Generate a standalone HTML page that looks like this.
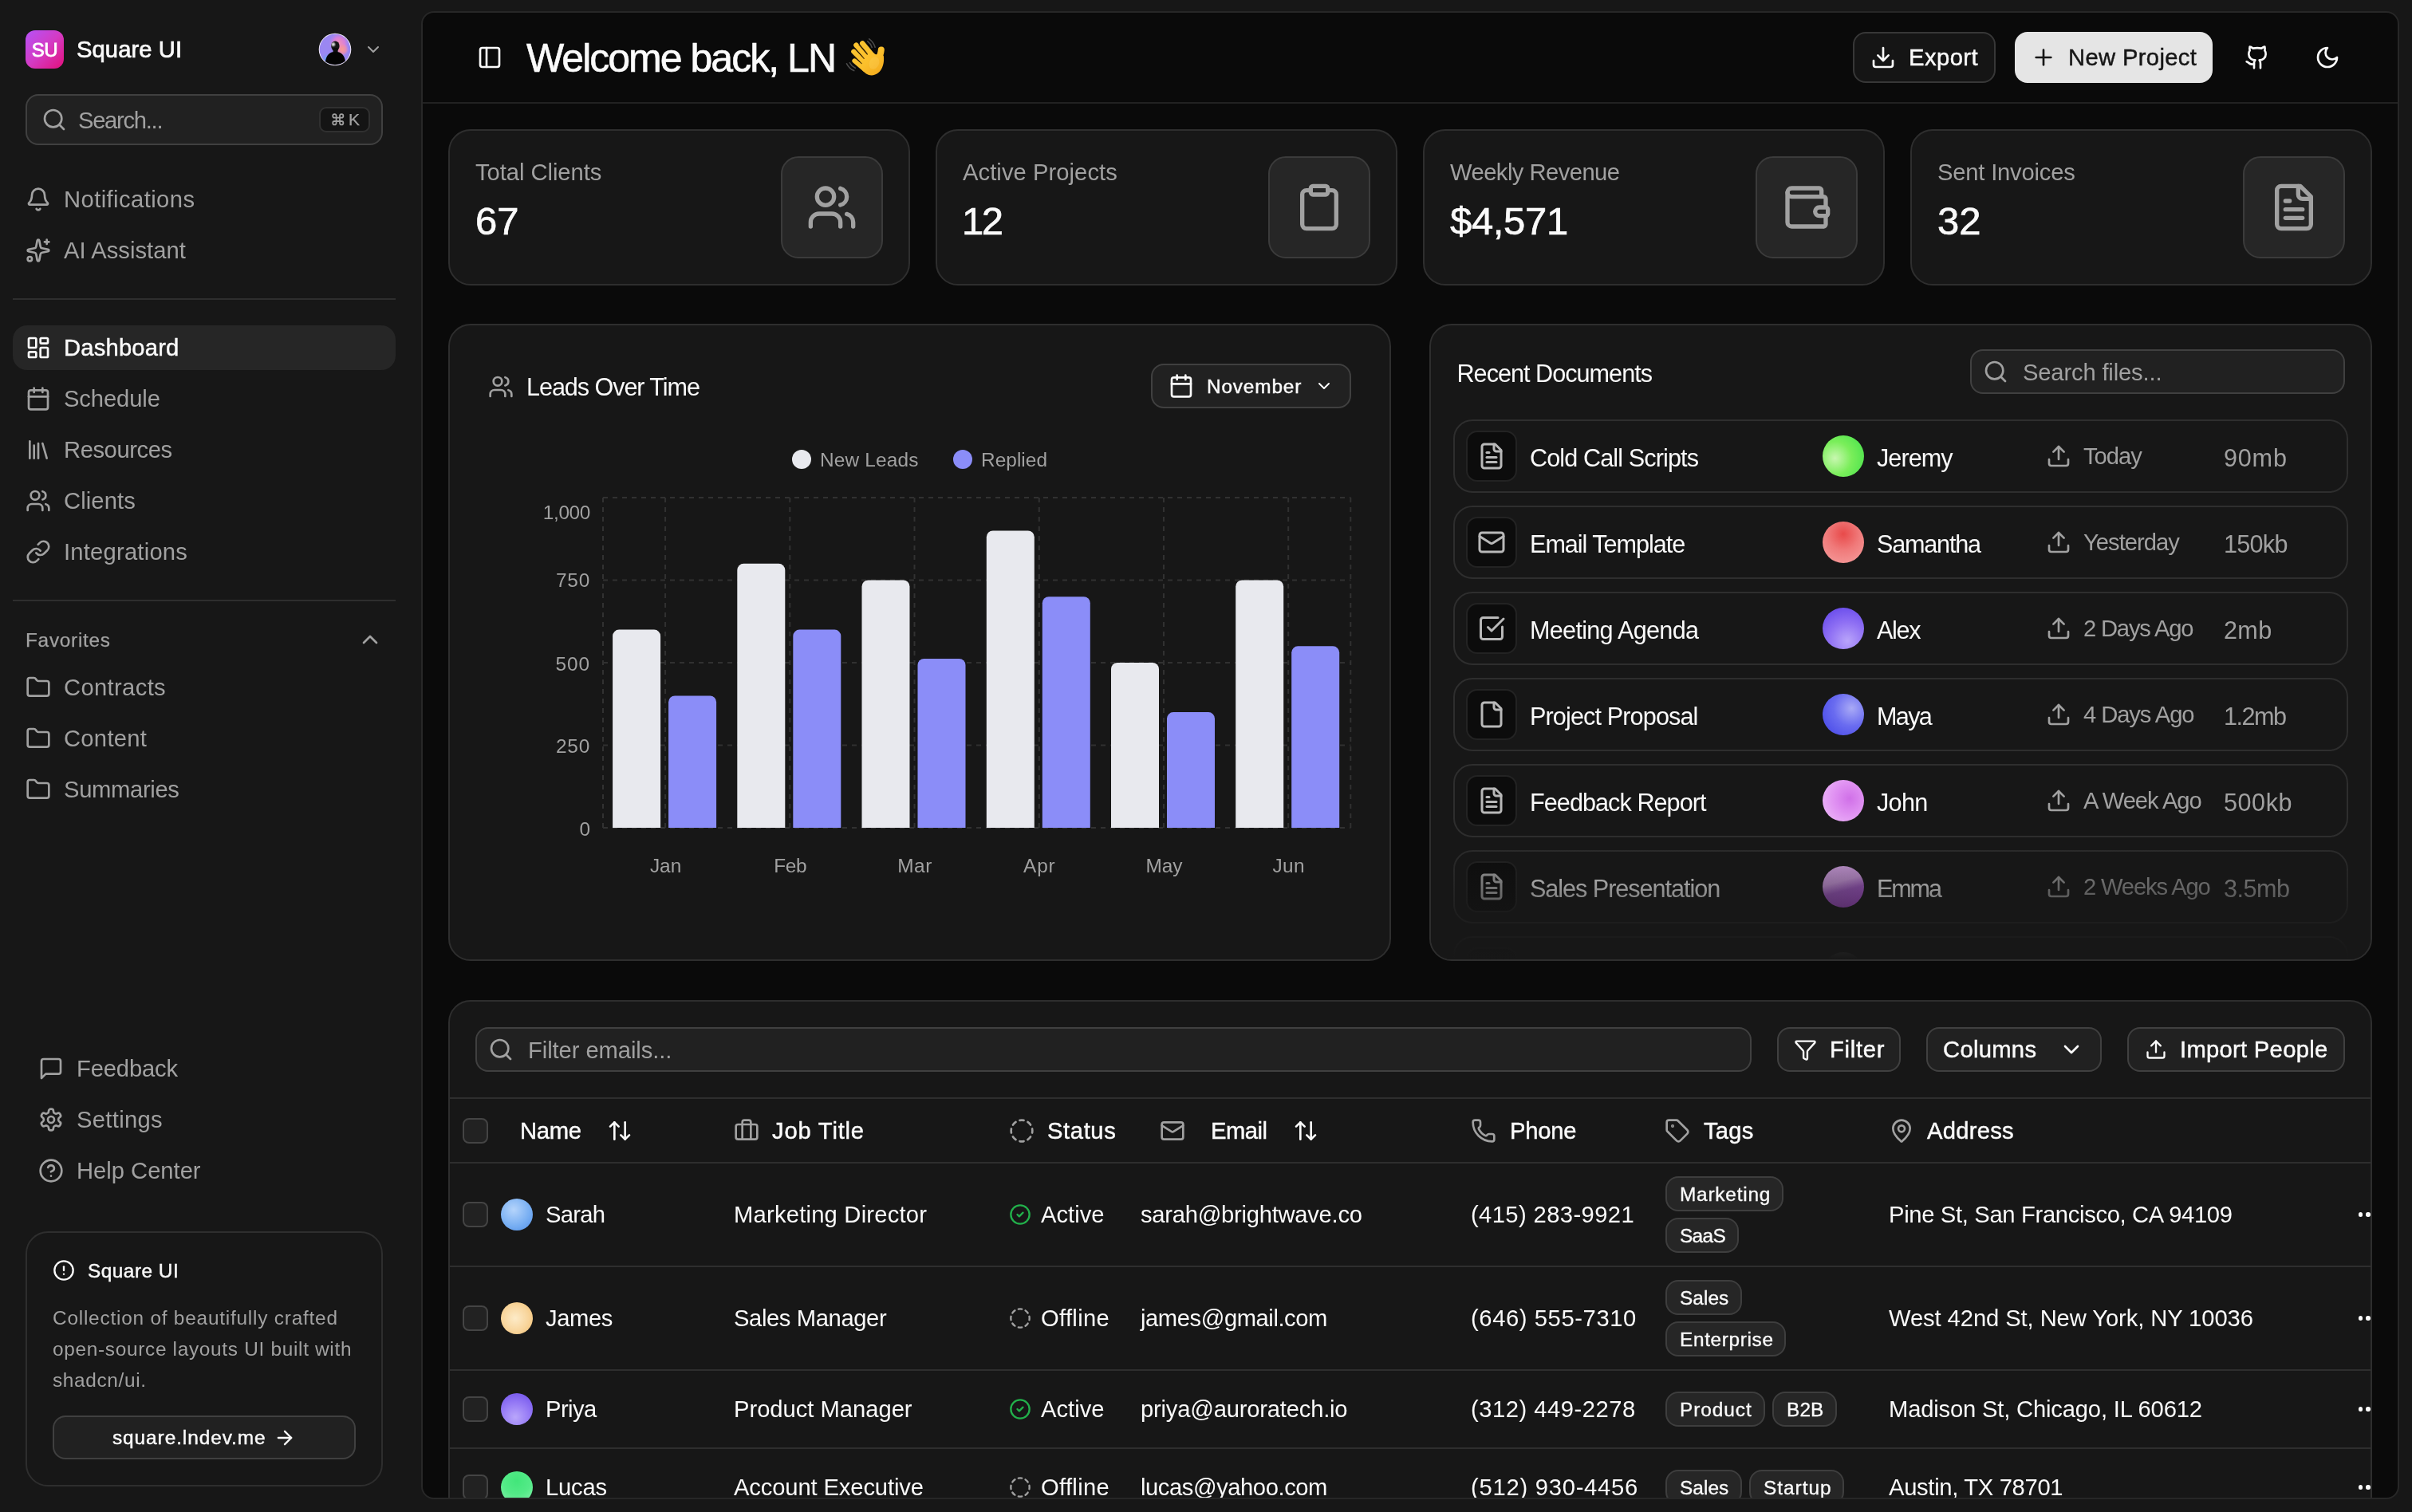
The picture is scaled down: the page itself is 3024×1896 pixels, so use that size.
<!DOCTYPE html><html><head><meta charset="utf-8"><title>Square UI</title><style>html,body{margin:0;padding:0}body{width:3024px;height:1896px;position:relative;overflow:hidden;background:#171717;font-family:"Liberation Sans",sans-serif;}.b{position:absolute;box-sizing:border-box}.t{position:absolute;white-space:nowrap;font-family:"Liberation Sans",sans-serif;font-weight:400}.f{position:absolute;overflow:visible}.i{position:absolute;fill:none;stroke:currentColor;stroke-linecap:round;stroke-linejoin:round;overflow:visible}</style></head><body><div class="b" style="left:0;top:0;width:3024px;height:1896px;will-change:transform">
<div class="b" style="left:32px;top:38px;width:48px;height:48px;background:linear-gradient(135deg,#b552f7 0%,#d43bc4 50%,#e3107c 100%);border-radius:12px;"></div>
<span class="t" id="t0" style="left:56px;top:44.5px;font-size:24px;line-height:36px;color:#fff;-webkit-text-stroke:0.8px #fff;transform:translateX(-50%);letter-spacing:-0.3px;">SU</span>
<span class="t" id="t1" style="left:96px;top:40px;font-size:29.2px;line-height:44px;color:#fafafa;-webkit-text-stroke:0.7px #fafafa;letter-spacing:0.072px;">Square UI</span>
<svg class="f" style="left:399px;top:41px" width="42" height="42" viewBox="0 0 42 42"><defs><radialGradient id="g1" cx="26" cy="13" r="13" gradientUnits="userSpaceOnUse"><stop offset="0" stop-color="#f58fb4"/><stop offset=".55" stop-color="#e27fd6" stop-opacity=".85"/><stop offset="1" stop-color="#b884ee" stop-opacity="0"/></radialGradient><radialGradient id="g2" cx="30" cy="21" r="8" gradientUnits="userSpaceOnUse"><stop offset="0" stop-color="#f99c92"/><stop offset=".6" stop-color="#f48fa8" stop-opacity=".8"/><stop offset="1" stop-color="#f08fc0" stop-opacity="0"/></radialGradient><radialGradient id="g3" cx="11" cy="33" r="8" gradientUnits="userSpaceOnUse"><stop offset="0" stop-color="#55aaf6"/><stop offset="1" stop-color="#8890f4" stop-opacity="0"/></radialGradient><radialGradient id="g4" cx="18.800" cy="14.600" r="4.200" gradientUnits="userSpaceOnUse"><stop offset="0" stop-color="#f2f2f2"/><stop offset=".45" stop-color="#9a9a9a"/><stop offset="1" stop-color="#2a2a2a" stop-opacity="0"/></radialGradient><clipPath id="avc"><circle cx="21" cy="21" r="19.300"/></clipPath></defs><circle cx="21" cy="21" r="20.300" fill="#ece6f4"/><circle cx="21" cy="21" r="19.300" fill="#9a87f2"/><g clip-path="url(#avc)"><rect width="42" height="42" fill="url(#g1)"/><rect width="42" height="42" fill="url(#g2)"/><rect width="42" height="42" fill="url(#g3)"/><ellipse cx="21.400" cy="16.800" rx="5.200" ry="6.300" fill="#161616"/><rect x="18.600" y="19" width="6" height="7" fill="#0c0c0c"/><ellipse cx="19.300" cy="16" rx="3" ry="4.600" fill="url(#g4)"/><path d="M8.500 42C8.500 30 13 25.500 18 24.300h7c5 1.200 9.500 5.700 9.500 17.700z" fill="#030303"/></g></svg>
<svg class="i" style="left:456px;top:50px;color:#a1a1a1;" width="24" height="24" viewBox="0 0 24 24" stroke-width="2"><path d="m6 9 6 6 6-6"/></svg>
<div class="b" style="left:32px;top:118px;width:448px;height:64px;background:#212121;border:2px solid #404040;border-radius:16px;"></div>
<svg class="i" style="left:52px;top:134px;color:#a1a1a1;" width="32" height="32" viewBox="0 0 24 24" stroke-width="2"><circle cx="11" cy="11" r="8"/><path d="m21 21-4.3-4.3"/></svg>
<span class="t" id="t2" style="left:98px;top:129px;font-size:29.2px;line-height:44px;color:#a1a1a1;letter-spacing:-1.289px;">Search...</span>
<div class="b" style="left:400px;top:134px;width:64px;height:32px;background:#141414;border:2px solid #303030;border-radius:9px;"></div>
<svg class="i" style="left:414.5px;top:141.3px;color:#a1a1a1" width="17.6" height="17.6" viewBox="0 0 24 24" stroke-width="2.4"><path d="M15 6v12a3 3 0 1 0 3-3H6a3 3 0 1 0 3 3V6a3 3 0 1 0-3 3h12a3 3 0 1 0-3-3"/></svg>
<span class="t" id="t3" style="left:437px;top:134px;font-size:21px;line-height:32px;color:#a1a1a1;-webkit-text-stroke:0.25px #a1a1a1;">K</span>
<svg class="i" style="left:32px;top:234px;color:#a1a1a1;" width="32" height="32" viewBox="0 0 24 24" stroke-width="2"><path d="M10.268 21a2 2 0 0 0 3.464 0"/><path d="M3.262 15.326A1 1 0 0 0 4 17h16a1 1 0 0 0 .74-1.673C19.41 13.956 18 12.499 18 8A6 6 0 0 0 6 8c0 4.499-1.411 5.956-2.738 7.326"/></svg>
<span class="t" id="t4" style="left:80px;top:228px;font-size:29.2px;line-height:44px;color:#a1a1a1;letter-spacing:0.418px;">Notifications</span>
<svg class="i" style="left:32px;top:298px;color:#a1a1a1;" width="32" height="32" viewBox="0 0 24 24" stroke-width="2"><path d="M11.017 2.814a1 1 0 0 1 1.966 0l1.051 5.558a2 2 0 0 0 1.594 1.594l5.558 1.051a1 1 0 0 1 0 1.966l-5.558 1.051a2 2 0 0 0-1.594 1.594l-1.051 5.558a1 1 0 0 1-1.966 0l-1.051-5.558a2 2 0 0 0-1.594-1.594l-5.558-1.051a1 1 0 0 1 0-1.966l5.558-1.051a2 2 0 0 0 1.594-1.594z"/><path d="M20 2v4"/><path d="M22 4h-4"/><circle cx="4" cy="20" r="2"/></svg>
<span class="t" id="t5" style="left:80px;top:292px;font-size:29.2px;line-height:44px;color:#a1a1a1;letter-spacing:0.027px;">AI Assistant</span>
<div class="b" style="left:16px;top:374px;width:480px;height:2px;background:#2e2e2e;"></div>
<div class="b" style="left:16px;top:408px;width:480px;height:56px;background:#262626;border-radius:18px;"></div>
<svg class="i" style="left:32px;top:420px;color:#fafafa;" width="32" height="32" viewBox="0 0 24 24" stroke-width="2"><rect width="7" height="9" x="3" y="3" rx="1"/><rect width="7" height="5" x="14" y="3" rx="1"/><rect width="7" height="9" x="14" y="12" rx="1"/><rect width="7" height="5" x="3" y="16" rx="1"/></svg>
<span class="t" id="t6" style="left:80px;top:414px;font-size:29.2px;line-height:44px;color:#fafafa;-webkit-text-stroke:0.45px #fafafa;letter-spacing:0.188px;">Dashboard</span>
<svg class="i" style="left:32px;top:484px;color:#a1a1a1;" width="32" height="32" viewBox="0 0 24 24" stroke-width="2"><path d="M8 2v4"/><path d="M16 2v4"/><rect width="18" height="18" x="3" y="4" rx="2"/><path d="M3 10h18"/></svg>
<span class="t" id="t7" style="left:80px;top:478px;font-size:29.2px;line-height:44px;color:#a1a1a1;letter-spacing:-0.103px;">Schedule</span>
<svg class="i" style="left:32px;top:548px;color:#a1a1a1;" width="32" height="32" viewBox="0 0 24 24" stroke-width="2"><path d="m16 6 4 14"/><path d="M12 6v14"/><path d="M8 8v12"/><path d="M4 4v16"/></svg>
<span class="t" id="t8" style="left:80px;top:542px;font-size:29.2px;line-height:44px;color:#a1a1a1;letter-spacing:-0.427px;">Resources</span>
<svg class="i" style="left:32px;top:612px;color:#a1a1a1;" width="32" height="32" viewBox="0 0 24 24" stroke-width="2"><path d="M16 21v-2a4 4 0 0 0-4-4H6a4 4 0 0 0-4 4v2"/><path d="M16 3.128a4 4 0 0 1 0 7.744"/><path d="M22 21v-2a4 4 0 0 0-3-3.87"/><circle cx="9" cy="7" r="4"/></svg>
<span class="t" id="t9" style="left:80px;top:606px;font-size:29.2px;line-height:44px;color:#a1a1a1;letter-spacing:0.097px;">Clients</span>
<svg class="i" style="left:32px;top:676px;color:#a1a1a1;" width="32" height="32" viewBox="0 0 24 24" stroke-width="2"><path d="M10 13a5 5 0 0 0 7.54.54l3-3a5 5 0 0 0-7.07-7.07l-1.72 1.71"/><path d="M14 11a5 5 0 0 0-7.54-.54l-3 3a5 5 0 0 0 7.07 7.07l1.71-1.71"/></svg>
<span class="t" id="t10" style="left:80px;top:670px;font-size:29.2px;line-height:44px;color:#a1a1a1;letter-spacing:0.215px;">Integrations</span>
<div class="b" style="left:16px;top:752px;width:480px;height:2px;background:#2e2e2e;"></div>
<span class="t" id="t11" style="left:32px;top:783.5px;font-size:24.4px;line-height:37px;color:#a1a1a1;-webkit-text-stroke:0.25px #a1a1a1;letter-spacing:0.711px;">Favorites</span>
<svg class="i" style="left:448px;top:786px;color:#a1a1a1;" width="32" height="32" viewBox="0 0 24 24" stroke-width="2"><path d="m18 15-6-6-6 6"/></svg>
<svg class="i" style="left:32px;top:846px;color:#a1a1a1;" width="32" height="32" viewBox="0 0 24 24" stroke-width="2"><path d="M20 20a2 2 0 0 0 2-2V8a2 2 0 0 0-2-2h-7.9a2 2 0 0 1-1.69-.9L9.6 3.9A2 2 0 0 0 7.93 3H4a2 2 0 0 0-2 2v13a2 2 0 0 0 2 2Z"/></svg>
<span class="t" id="t12" style="left:80px;top:840px;font-size:29.2px;line-height:44px;color:#a1a1a1;letter-spacing:0.349px;">Contracts</span>
<svg class="i" style="left:32px;top:910px;color:#a1a1a1;" width="32" height="32" viewBox="0 0 24 24" stroke-width="2"><path d="M20 20a2 2 0 0 0 2-2V8a2 2 0 0 0-2-2h-7.9a2 2 0 0 1-1.69-.9L9.6 3.9A2 2 0 0 0 7.93 3H4a2 2 0 0 0-2 2v13a2 2 0 0 0 2 2Z"/></svg>
<span class="t" id="t13" style="left:80px;top:904px;font-size:29.2px;line-height:44px;color:#a1a1a1;letter-spacing:0.278px;">Content</span>
<svg class="i" style="left:32px;top:974px;color:#a1a1a1;" width="32" height="32" viewBox="0 0 24 24" stroke-width="2"><path d="M20 20a2 2 0 0 0 2-2V8a2 2 0 0 0-2-2h-7.9a2 2 0 0 1-1.69-.9L9.6 3.9A2 2 0 0 0 7.93 3H4a2 2 0 0 0-2 2v13a2 2 0 0 0 2 2Z"/></svg>
<span class="t" id="t14" style="left:80px;top:968px;font-size:29.2px;line-height:44px;color:#a1a1a1;letter-spacing:-0.337px;">Summaries</span>
<svg class="i" style="left:48px;top:1323.5px;color:#a1a1a1;" width="32" height="32" viewBox="0 0 24 24" stroke-width="2"><path d="M21 15a2 2 0 0 1-2 2H7l-4 4V5a2 2 0 0 1 2-2h14a2 2 0 0 1 2 2z"/></svg>
<span class="t" id="t15" style="left:96px;top:1317.5px;font-size:29.2px;line-height:44px;color:#a1a1a1;letter-spacing:-0.155px;">Feedback</span>
<svg class="i" style="left:48px;top:1387.5px;color:#a1a1a1;" width="32" height="32" viewBox="0 0 24 24" stroke-width="2"><path d="M12.22 2h-.44a2 2 0 0 0-2 2v.18a2 2 0 0 1-1 1.73l-.43.25a2 2 0 0 1-2 0l-.15-.08a2 2 0 0 0-2.73.73l-.22.38a2 2 0 0 0 .73 2.73l.15.1a2 2 0 0 1 1 1.72v.51a2 2 0 0 1-1 1.74l-.15.09a2 2 0 0 0-.73 2.73l.22.38a2 2 0 0 0 2.73.73l.15-.08a2 2 0 0 1 2 0l.43.25a2 2 0 0 1 1 1.73V20a2 2 0 0 0 2 2h.44a2 2 0 0 0 2-2v-.18a2 2 0 0 1 1-1.73l.43-.25a2 2 0 0 1 2 0l.15.08a2 2 0 0 0 2.73-.73l.22-.39a2 2 0 0 0-.73-2.73l-.15-.08a2 2 0 0 1-1-1.74v-.5a2 2 0 0 1 1-1.74l.15-.09a2 2 0 0 0 .73-2.73l-.22-.38a2 2 0 0 0-2.73-.73l-.15.08a2 2 0 0 1-2 0l-.43-.25a2 2 0 0 1-1-1.73V4a2 2 0 0 0-2-2z"/><circle cx="12" cy="12" r="3"/></svg>
<span class="t" id="t16" style="left:96px;top:1381.5px;font-size:29.2px;line-height:44px;color:#a1a1a1;letter-spacing:0.304px;">Settings</span>
<svg class="i" style="left:48px;top:1451.5px;color:#a1a1a1;" width="32" height="32" viewBox="0 0 24 24" stroke-width="2"><circle cx="12" cy="12" r="10"/><path d="M9.09 9a3 3 0 0 1 5.83 1c0 2-3 3-3 3"/><path d="M12 17h.01"/></svg>
<span class="t" id="t17" style="left:96px;top:1445.5px;font-size:29.2px;line-height:44px;color:#a1a1a1;letter-spacing:-0.015px;">Help Center</span>
<div class="b" style="left:32px;top:1544px;width:448px;height:320px;border:2px solid #2e2e2e;border-radius:28px;"></div>
<svg class="i" style="left:66px;top:1579px;color:#fafafa;" width="28" height="28" viewBox="0 0 24 24" stroke-width="2"><circle cx="12" cy="12" r="10"/><path d="M12 8v4"/><path d="M12 16h.01"/></svg>
<span class="t" id="t18" style="left:110px;top:1574.5px;font-size:24.4px;line-height:37px;color:#fafafa;-webkit-text-stroke:0.45px #fafafa;letter-spacing:0.484px;">Square UI</span>
<span class="t" id="t19" style="left:66px;top:1634px;font-size:24.4px;line-height:37px;color:#a1a1a1;letter-spacing:0.776px;">Collection of beautifully crafted</span>
<span class="t" id="t20" style="left:66px;top:1673px;font-size:24.4px;line-height:37px;color:#a1a1a1;letter-spacing:0.688px;">open-source layouts UI built with</span>
<span class="t" id="t21" style="left:66px;top:1712px;font-size:24.4px;line-height:37px;color:#a1a1a1;letter-spacing:0.646px;">shadcn/ui.</span>
<div class="b" style="left:66px;top:1775px;width:380px;height:55px;background:#212121;border:2px solid #404040;border-radius:16px;"></div>
<span class="t" id="t22" style="left:141px;top:1784px;font-size:24.4px;line-height:37px;color:#fafafa;-webkit-text-stroke:0.45px #fafafa;letter-spacing:0.927px;">square.lndev.me</span>
<svg class="i" style="left:343px;top:1788.5px;color:#fafafa;" width="28" height="28" viewBox="0 0 24 24" stroke-width="2"><path d="M5 12h14"/><path d="m12 5 7 7-7 7"/></svg>
<div class="b" style="left:528px;top:14px;width:2480px;height:1866px;background:#0a0a0a;border:2px solid #272727;border-radius:16px;"></div>
<svg class="i" style="left:598px;top:56px;color:#fafafa;" width="32" height="32" viewBox="0 0 24 24" stroke-width="2"><rect width="18" height="18" x="3" y="3" rx="2"/><path d="M9 3v18"/></svg>
<span class="t" id="t23" style="left:660px;top:42.6px;font-size:50px;line-height:60px;color:#fafafa;-webkit-text-stroke:0.6px #fafafa;letter-spacing:-1.979px;">Welcome back, LN</span>
<svg class="f" style="left:1050px;top:36px" width="72" height="72" viewBox="0 0 72 72" fill="none" stroke-linecap="round"><defs><linearGradient id="hg" x1="20" y1="16" x2="56" y2="58" gradientUnits="userSpaceOnUse"><stop offset="0" stop-color="#fcc530"/><stop offset=".55" stop-color="#fbc02c"/><stop offset="1" stop-color="#f3a91c"/></linearGradient></defs><g stroke="url(#hg)"><path d="M31.200 18.400L45 35" stroke-width="6.400"/><path d="M23.400 20.600L40 40" stroke-width="6.400"/><path d="M20.300 28.700L36 45" stroke-width="6.200"/><path d="M21.300 40.200L34 51" stroke-width="5.800"/><path d="M54.800 26.500C54.500 31 52.500 36 50 41" stroke-width="8"/></g><path d="M45.500 30.500c1.500 2.200 4.200 2.300 6 .8l6.300 2.700c1.200 8-1 16.500-6.300 21-4.800 4.100-10.800 4.600-15.500 1.500-3.600-2.400-6-5.500-7.200-8.200L27 46l3-9 8-6z" fill="url(#hg)"/><ellipse cx="46" cy="43" rx="6" ry="8" fill="#fdd466" opacity=".3" transform="rotate(25 46 43)"/><g stroke="#3a2400" stroke-width="1.200" opacity=".85"><path d="M37.300 32.200L27 20.200"/><path d="M33.200 37.400L22 24.600"/><path d="M30.200 43.600L20.500 34.300"/></g><g stroke="#4a4a4a" stroke-width="1.600"><path d="M37.800 15.900c2.600 1.900 4.500 4.600 5.400 7.500"/><path d="M39.700 12.800c3.500 2.500 6.200 6.300 7.400 10.400"/><path d="M15.300 42.600c1.600 3 4 5.300 7 6.700"/><path d="M11.500 43.800c2 4 5.200 7.100 9.200 8.800"/></g></svg>
<div class="b" style="left:2323px;top:40px;width:179px;height:64px;background:#151515;border:2px solid #373737;border-radius:16px;"></div>
<svg class="i" style="left:2345px;top:56px;color:#fafafa;" width="32" height="32" viewBox="0 0 24 24" stroke-width="2"><path d="M12 15V3"/><path d="M21 15v4a2 2 0 0 1-2 2H5a2 2 0 0 1-2-2v-4"/><path d="m7 10 5 5 5-5"/></svg>
<span class="t" id="t24" style="left:2393px;top:50px;font-size:29.2px;line-height:44px;color:#fafafa;-webkit-text-stroke:0.45px #fafafa;letter-spacing:0.448px;">Export</span>
<div class="b" style="left:2526px;top:40px;width:248px;height:64px;background:#e5e5e5;border-radius:16px;"></div>
<svg class="i" style="left:2546px;top:56px;color:#171717;" width="32" height="32" viewBox="0 0 24 24" stroke-width="2"><path d="M5 12h14"/><path d="M12 5v14"/></svg>
<span class="t" id="t25" style="left:2593px;top:50px;font-size:29.2px;line-height:44px;color:#171717;-webkit-text-stroke:0.45px #171717;letter-spacing:0.356px;">New Project</span>
<svg class="i" style="left:2814px;top:56px;color:#fafafa;" width="32" height="32" viewBox="0 0 24 24" stroke-width="2"><path d="M15 22v-4a4.8 4.8 0 0 0-1-3.5c3 0 6-2 6-5.5.08-1.25-.27-2.48-1-3.5.28-1.15.28-2.35 0-3.5 0 0-1 0-3 1.5-2.64-.5-5.36-.5-8 0C6 2 5 2 5 2c-.3 1.15-.3 2.35 0 3.5A5.403 5.403 0 0 0 4 9c0 3.5 3 5.5 6 5.5-.39.49-.68 1.05-.85 1.65-.17.6-.22 1.23-.15 1.85v4"/><path d="M9 18c-4.51 2-5-2-7-2"/></svg>
<svg class="i" style="left:2902px;top:56px;color:#fafafa;" width="32" height="32" viewBox="0 0 24 24" stroke-width="2"><path d="M12 3a6 6 0 0 0 9 9 9 9 0 1 1-9-9Z"/></svg>
<div class="b" style="left:530px;top:128px;width:2476px;height:2px;background:#222;"></div>
<div class="b" style="left:562px;top:162px;width:579px;height:196px;background:#171717;border:2px solid #2e2e2e;border-radius:28px;"></div>
<span class="t" id="t26" style="left:596px;top:194px;font-size:29.2px;line-height:44px;color:#a1a1a1;letter-spacing:-0.049px;">Total Clients</span>
<span class="t" id="t27" style="left:596px;top:247px;font-size:49px;line-height:60px;color:#fafafa;-webkit-text-stroke:0.7px #fafafa;">67</span>
<div class="b" style="left:979px;top:196px;width:128px;height:128px;background:#262626;border:2px solid #3b3b3b;border-radius:22px;"></div>
<svg class="i" style="left:1011px;top:228px;color:#a1a1a1;" width="64" height="64" viewBox="0 0 24 24" stroke-width="2"><path d="M16 21v-2a4 4 0 0 0-4-4H6a4 4 0 0 0-4 4v2"/><path d="M16 3.128a4 4 0 0 1 0 7.744"/><path d="M22 21v-2a4 4 0 0 0-3-3.87"/><circle cx="9" cy="7" r="4"/></svg>
<div class="b" style="left:1173px;top:162px;width:579px;height:196px;background:#171717;border:2px solid #2e2e2e;border-radius:28px;"></div>
<span class="t" id="t28" style="left:1207px;top:194px;font-size:29.2px;line-height:44px;color:#a1a1a1;letter-spacing:0.055px;">Active Projects</span>
<span class="t" id="t29" style="left:1206px;top:247px;font-size:49px;line-height:60px;color:#fafafa;-webkit-text-stroke:0.7px #fafafa;letter-spacing:-2.5px;">12</span>
<div class="b" style="left:1590px;top:196px;width:128px;height:128px;background:#262626;border:2px solid #3b3b3b;border-radius:22px;"></div>
<svg class="i" style="left:1622px;top:228px;color:#a1a1a1;" width="64" height="64" viewBox="0 0 24 24" stroke-width="2"><rect width="8" height="4" x="8" y="2" rx="1" ry="1"/><path d="M16 4h2a2 2 0 0 1 2 2v14a2 2 0 0 1-2 2H6a2 2 0 0 1-2-2V6a2 2 0 0 1 2-2h2"/></svg>
<div class="b" style="left:1784px;top:162px;width:579px;height:196px;background:#171717;border:2px solid #2e2e2e;border-radius:28px;"></div>
<span class="t" id="t30" style="left:1818px;top:194px;font-size:29.2px;line-height:44px;color:#a1a1a1;letter-spacing:-0.547px;">Weekly Revenue</span>
<span class="t" id="t31" style="left:1818px;top:247px;font-size:49px;line-height:60px;color:#fafafa;-webkit-text-stroke:0.7px #fafafa;letter-spacing:-0.335px;">$4,571</span>
<div class="b" style="left:2201px;top:196px;width:128px;height:128px;background:#262626;border:2px solid #3b3b3b;border-radius:22px;"></div>
<svg class="i" style="left:2233px;top:228px;color:#a1a1a1;" width="64" height="64" viewBox="0 0 24 24" stroke-width="2"><path d="M19 7V4a1 1 0 0 0-1-1H5a2 2 0 0 0 0 4h15a1 1 0 0 1 1 1v4h-3a2 2 0 0 0 0 4h3a1 1 0 0 0 1-1v-2a1 1 0 0 0-1-1"/><path d="M3 5v14a2 2 0 0 0 2 2h15a1 1 0 0 0 1-1v-4"/></svg>
<div class="b" style="left:2395px;top:162px;width:579px;height:196px;background:#171717;border:2px solid #2e2e2e;border-radius:28px;"></div>
<span class="t" id="t32" style="left:2429px;top:194px;font-size:29.2px;line-height:44px;color:#a1a1a1;letter-spacing:-0.203px;">Sent Invoices</span>
<span class="t" id="t33" style="left:2429px;top:247px;font-size:49px;line-height:60px;color:#fafafa;-webkit-text-stroke:0.7px #fafafa;">32</span>
<div class="b" style="left:2812px;top:196px;width:128px;height:128px;background:#262626;border:2px solid #3b3b3b;border-radius:22px;"></div>
<svg class="i" style="left:2844px;top:228px;color:#a1a1a1;" width="64" height="64" viewBox="0 0 24 24" stroke-width="2"><path d="M15 2H6a2 2 0 0 0-2 2v16a2 2 0 0 0 2 2h12a2 2 0 0 0 2-2V7Z"/><path d="M14 2v4a2 2 0 0 0 2 2h4"/><path d="M10 9H8"/><path d="M16 13H8"/><path d="M16 17H8"/></svg>
<div class="b" style="left:562px;top:406px;width:1182px;height:799px;background:#171717;border:2px solid #2e2e2e;border-radius:28px;"></div>
<svg class="i" style="left:612px;top:469px;color:#a1a1a1;" width="32" height="32" viewBox="0 0 24 24" stroke-width="2"><path d="M16 21v-2a4 4 0 0 0-4-4H6a4 4 0 0 0-4 4v2"/><path d="M16 3.128a4 4 0 0 1 0 7.744"/><path d="M22 21v-2a4 4 0 0 0-3-3.87"/><circle cx="9" cy="7" r="4"/></svg>
<span class="t" id="t34" style="left:660px;top:462px;font-size:30.6px;line-height:46px;color:#fafafa;letter-spacing:-1.068px;">Leads Over Time</span>
<div class="b" style="left:1443px;top:456px;width:251px;height:56px;background:#212121;border:2px solid #404040;border-radius:16px;"></div>
<svg class="i" style="left:1465px;top:468px;color:#fafafa;" width="32" height="32" viewBox="0 0 24 24" stroke-width="2"><path d="M8 2v4"/><path d="M16 2v4"/><rect width="18" height="18" x="3" y="4" rx="2"/><path d="M3 10h18"/></svg>
<span class="t" id="t35" style="left:1513px;top:465.5px;font-size:24.4px;line-height:37px;color:#fafafa;-webkit-text-stroke:0.45px #fafafa;letter-spacing:0.826px;">November</span>
<svg class="i" style="left:1648px;top:472px;color:#fafafa;" width="24" height="24" viewBox="0 0 24 24" stroke-width="2"><path d="m6 9 6 6 6-6"/></svg>
<div class="b" style="left:993px;top:564px;width:24px;height:24px;background:#e8e9ee;border-radius:12px;"></div>
<span class="t" id="t36" style="left:1028px;top:557.5px;font-size:24.4px;line-height:37px;color:#a1a1a1;letter-spacing:0.184px;">New Leads</span>
<div class="b" style="left:1195px;top:564px;width:24px;height:24px;background:#8b8df8;border-radius:12px;"></div>
<span class="t" id="t37" style="left:1230px;top:557.5px;font-size:24.4px;line-height:37px;color:#a1a1a1;letter-spacing:0.047px;">Replied</span>
<svg class="f" style="left:0;top:0" width="3024" height="1896" viewBox="0 0 3024 1896"><g stroke="#313131" stroke-width="2" stroke-dasharray="6 6" fill="none"><path d="M756 624.0H1693.3"/><path d="M756 727.5H1693.3"/><path d="M756 831.0H1693.3"/><path d="M756 934.5H1693.3"/><path d="M756 1038.0H1693.3"/><path d="M756 624V1038"/><path d="M1693.3 624V1038"/><path d="M834.1 624V1038"/><path d="M990.3 624V1038"/><path d="M1146.5 624V1038"/><path d="M1302.8 624V1038"/><path d="M1459.0 624V1038"/><path d="M1615.2 624V1038"/></g><path fill="#e8e9ee" d="M768.1 1038V797.6a8 8 0 0 1 8-8h44a8 8 0 0 1 8 8V1038z"/><path fill="#8b8df8" d="M838.1 1038V880.4a8 8 0 0 1 8-8h44a8 8 0 0 1 8 8V1038z"/><path fill="#e8e9ee" d="M924.3 1038V714.8a8 8 0 0 1 8-8h44a8 8 0 0 1 8 8V1038z"/><path fill="#8b8df8" d="M994.3 1038V797.6a8 8 0 0 1 8-8h44a8 8 0 0 1 8 8V1038z"/><path fill="#e8e9ee" d="M1080.5 1038V735.5a8 8 0 0 1 8-8h44a8 8 0 0 1 8 8V1038z"/><path fill="#8b8df8" d="M1150.5 1038V834.0a8 8 0 0 1 8-8h44a8 8 0 0 1 8 8V1038z"/><path fill="#e8e9ee" d="M1236.8 1038V673.4a8 8 0 0 1 8-8h44a8 8 0 0 1 8 8V1038z"/><path fill="#8b8df8" d="M1306.8 1038V756.2a8 8 0 0 1 8-8h44a8 8 0 0 1 8 8V1038z"/><path fill="#e8e9ee" d="M1393.0 1038V839.0a8 8 0 0 1 8-8h44a8 8 0 0 1 8 8V1038z"/><path fill="#8b8df8" d="M1463.0 1038V901.1a8 8 0 0 1 8-8h44a8 8 0 0 1 8 8V1038z"/><path fill="#e8e9ee" d="M1549.2 1038V735.5a8 8 0 0 1 8-8h44a8 8 0 0 1 8 8V1038z"/><path fill="#8b8df8" d="M1619.2 1038V818.3a8 8 0 0 1 8-8h44a8 8 0 0 1 8 8V1038z"/></svg>
<span class="t" id="t38" style="left:740px;top:624.1px;font-size:24.4px;line-height:37px;color:#a1a1a1;transform:translateX(-100%);letter-spacing:-0.362px;">1,000</span>
<span class="t" id="t39" style="left:740px;top:709.2px;font-size:24.4px;line-height:37px;color:#a1a1a1;transform:translateX(-100%);letter-spacing:0.748px;">750</span>
<span class="t" id="t40" style="left:740px;top:813.5px;font-size:24.4px;line-height:37px;color:#a1a1a1;transform:translateX(-100%);letter-spacing:0.898px;">500</span>
<span class="t" id="t41" style="left:740px;top:916.5px;font-size:24.4px;line-height:37px;color:#a1a1a1;transform:translateX(-100%);letter-spacing:0.748px;">250</span>
<span class="t" id="t42" style="left:740px;top:1020.5px;font-size:24.4px;line-height:37px;color:#a1a1a1;transform:translateX(-100%);">0</span>
<span class="t" id="t43" style="left:834.6083333333333px;top:1066.5px;font-size:24.4px;line-height:37px;color:#a1a1a1;transform:translateX(-50%);letter-spacing:0.036px;">Jan</span>
<span class="t" id="t44" style="left:990.825px;top:1066.5px;font-size:24.4px;line-height:37px;color:#a1a1a1;transform:translateX(-50%);letter-spacing:-0.316px;">Feb</span>
<span class="t" id="t45" style="left:1147.0416666666667px;top:1066.5px;font-size:24.4px;line-height:37px;color:#a1a1a1;transform:translateX(-50%);letter-spacing:0.492px;">Mar</span>
<span class="t" id="t46" style="left:1303.2583333333332px;top:1066.5px;font-size:24.4px;line-height:37px;color:#a1a1a1;transform:translateX(-50%);letter-spacing:0.766px;">Apr</span>
<span class="t" id="t47" style="left:1459.475px;top:1066.5px;font-size:24.4px;line-height:37px;color:#a1a1a1;transform:translateX(-50%);letter-spacing:-0.039px;">May</span>
<span class="t" id="t48" style="left:1615.6916666666666px;top:1066.5px;font-size:24.4px;line-height:37px;color:#a1a1a1;transform:translateX(-50%);letter-spacing:0.336px;">Jun</span>
<div class="b" style="left:1792px;top:406px;width:1182px;height:799px;background:#171717;border:2px solid #2e2e2e;border-radius:28px;overflow:hidden;"></div>
<span class="t" id="t49" style="left:1826.5px;top:444.5px;font-size:30.6px;line-height:46px;color:#fafafa;letter-spacing:-0.978px;">Recent Documents</span>
<div class="b" style="left:2470px;top:438px;width:470px;height:56px;background:#212121;border:2px solid #404040;border-radius:16px;"></div>
<svg class="i" style="left:2486px;top:450px;color:#a1a1a1;" width="32" height="32" viewBox="0 0 24 24" stroke-width="2"><circle cx="11" cy="11" r="8"/><path d="m21 21-4.3-4.3"/></svg>
<span class="t" id="t50" style="left:2536px;top:445px;font-size:29.2px;line-height:44px;color:#a1a1a1;letter-spacing:-0.166px;">Search files...</span>
<div class="b" style="left:0;top:0;width:3024px;height:1896px;clip-path:inset(0 0 693px 0)">
<div class="b" style="left:1822px;top:526px;width:1122px;height:92px;border:2px solid #2e2e2e;border-radius:24px;"></div>
<div class="b" style="left:1838px;top:540px;width:64px;height:64px;background:#0c0c0c;border:2px solid #232323;border-radius:14px;"></div>
<svg class="i" style="left:1852px;top:554px;color:#b8b8b8;" width="36" height="36" viewBox="0 0 24 24" stroke-width="2"><path d="M15 2H6a2 2 0 0 0-2 2v16a2 2 0 0 0 2 2h12a2 2 0 0 0 2-2V7Z"/><path d="M14 2v4a2 2 0 0 0 2 2h4"/><path d="M10 9H8"/><path d="M16 13H8"/><path d="M16 17H8"/></svg>
<div class="b" style="left:2285px;top:546px;width:52px;height:52px;border-radius:50%;background:radial-gradient(circle at 30% 55%,#c8f7b0 0%,#7aee5a 45%,#3fe04a 100%)"></div>
<span class="t" id="t51" style="left:1918px;top:550.5px;font-size:30.6px;line-height:46px;color:#fafafa;letter-spacing:-0.883px;">Cold Call Scripts</span>
<span class="t" id="t52" style="left:2353px;top:550.5px;font-size:30.6px;line-height:46px;color:#fafafa;letter-spacing:-0.939px;">Jeremy</span>
<svg class="i" style="left:2565px;top:555.5px;color:#a1a1a1;" width="32" height="32" viewBox="0 0 24 24" stroke-width="2"><path d="M12 3v12"/><path d="m17 8-5-5-5 5"/><path d="M21 15v4a2 2 0 0 1-2 2H5a2 2 0 0 1-2-2v-4"/></svg>
<span class="t" id="t53" style="left:2612px;top:550px;font-size:29.2px;line-height:44px;color:#a1a1a1;letter-spacing:-1.023px;">Today</span>
<span class="t" id="t54" style="left:2788px;top:550.5px;font-size:30.6px;line-height:46px;color:#a1a1a1;letter-spacing:0.790px;">90mb</span>
<div class="b" style="left:1822px;top:634px;width:1122px;height:92px;border:2px solid #2e2e2e;border-radius:24px;"></div>
<div class="b" style="left:1838px;top:648px;width:64px;height:64px;background:#0c0c0c;border:2px solid #232323;border-radius:14px;"></div>
<svg class="i" style="left:1852px;top:662px;color:#b8b8b8;" width="36" height="36" viewBox="0 0 24 24" stroke-width="2"><rect width="20" height="16" x="2" y="4" rx="2"/><path d="m22 7-8.97 5.7a1.94 1.94 0 0 1-2.06 0L2 7"/></svg>
<div class="b" style="left:2285px;top:654px;width:52px;height:52px;border-radius:50%;background:radial-gradient(circle at 50% 30%,#e84a4a 0%,#f07a7a 45%,#f6a0a0 100%)"></div>
<span class="t" id="t55" style="left:1918px;top:658.5px;font-size:30.6px;line-height:46px;color:#fafafa;letter-spacing:-1.030px;">Email Template</span>
<span class="t" id="t56" style="left:2353px;top:658.5px;font-size:30.6px;line-height:46px;color:#fafafa;letter-spacing:-1.210px;">Samantha</span>
<svg class="i" style="left:2565px;top:663.5px;color:#a1a1a1;" width="32" height="32" viewBox="0 0 24 24" stroke-width="2"><path d="M12 3v12"/><path d="m17 8-5-5-5 5"/><path d="M21 15v4a2 2 0 0 1-2 2H5a2 2 0 0 1-2-2v-4"/></svg>
<span class="t" id="t57" style="left:2612px;top:658px;font-size:29.2px;line-height:44px;color:#a1a1a1;letter-spacing:-0.981px;">Yesterday</span>
<span class="t" id="t58" style="left:2788px;top:658.5px;font-size:30.6px;line-height:46px;color:#a1a1a1;letter-spacing:-0.740px;">150kb</span>
<div class="b" style="left:1822px;top:742px;width:1122px;height:92px;border:2px solid #2e2e2e;border-radius:24px;"></div>
<div class="b" style="left:1838px;top:756px;width:64px;height:64px;background:#0c0c0c;border:2px solid #232323;border-radius:14px;"></div>
<svg class="i" style="left:1852px;top:770px;color:#b8b8b8;" width="36" height="36" viewBox="0 0 24 24" stroke-width="2"><path d="M21 10.656V19a2 2 0 0 1-2 2H5a2 2 0 0 1-2-2V5a2 2 0 0 1 2-2h12.344"/><path d="m9 11 3 3L22 4"/></svg>
<div class="b" style="left:2285px;top:762px;width:52px;height:52px;border-radius:50%;background:radial-gradient(circle at 60% 80%,#b9a4fa 0%,#8f70f4 45%,#5b3fe8 100%)"></div>
<span class="t" id="t59" style="left:1918px;top:766.5px;font-size:30.6px;line-height:46px;color:#fafafa;letter-spacing:-0.703px;">Meeting Agenda</span>
<span class="t" id="t60" style="left:2353px;top:766.5px;font-size:30.6px;line-height:46px;color:#fafafa;letter-spacing:-1.305px;">Alex</span>
<svg class="i" style="left:2565px;top:771.5px;color:#a1a1a1;" width="32" height="32" viewBox="0 0 24 24" stroke-width="2"><path d="M12 3v12"/><path d="m17 8-5-5-5 5"/><path d="M21 15v4a2 2 0 0 1-2 2H5a2 2 0 0 1-2-2v-4"/></svg>
<span class="t" id="t61" style="left:2612px;top:766px;font-size:29.2px;line-height:44px;color:#a1a1a1;letter-spacing:-1.187px;">2 Days Ago</span>
<span class="t" id="t62" style="left:2788px;top:766.5px;font-size:30.6px;line-height:46px;color:#a1a1a1;letter-spacing:0.342px;">2mb</span>
<div class="b" style="left:1822px;top:850px;width:1122px;height:92px;border:2px solid #2e2e2e;border-radius:24px;"></div>
<div class="b" style="left:1838px;top:864px;width:64px;height:64px;background:#0c0c0c;border:2px solid #232323;border-radius:14px;"></div>
<svg class="i" style="left:1852px;top:878px;color:#b8b8b8;" width="36" height="36" viewBox="0 0 24 24" stroke-width="2"><path d="M15 2H6a2 2 0 0 0-2 2v16a2 2 0 0 0 2 2h12a2 2 0 0 0 2-2V7Z"/><path d="M14 2v4a2 2 0 0 0 2 2h4"/></svg>
<div class="b" style="left:2285px;top:870px;width:52px;height:52px;border-radius:50%;background:radial-gradient(circle at 70% 35%,#a9aaf6 0%,#6a6cf0 45%,#4142e6 100%)"></div>
<span class="t" id="t63" style="left:1918px;top:874.5px;font-size:30.6px;line-height:46px;color:#fafafa;letter-spacing:-0.871px;">Project Proposal</span>
<span class="t" id="t64" style="left:2353px;top:874.5px;font-size:30.6px;line-height:46px;color:#fafafa;letter-spacing:-1.671px;">Maya</span>
<svg class="i" style="left:2565px;top:879.5px;color:#a1a1a1;" width="32" height="32" viewBox="0 0 24 24" stroke-width="2"><path d="M12 3v12"/><path d="m17 8-5-5-5 5"/><path d="M21 15v4a2 2 0 0 1-2 2H5a2 2 0 0 1-2-2v-4"/></svg>
<span class="t" id="t65" style="left:2612px;top:874px;font-size:29.2px;line-height:44px;color:#a1a1a1;letter-spacing:-1.076px;">4 Days Ago</span>
<span class="t" id="t66" style="left:2788px;top:874.5px;font-size:30.6px;line-height:46px;color:#a1a1a1;letter-spacing:-1.533px;">1.2mb</span>
<div class="b" style="left:1822px;top:958px;width:1122px;height:92px;border:2px solid #2e2e2e;border-radius:24px;"></div>
<div class="b" style="left:1838px;top:972px;width:64px;height:64px;background:#0c0c0c;border:2px solid #232323;border-radius:14px;"></div>
<svg class="i" style="left:1852px;top:986px;color:#b8b8b8;" width="36" height="36" viewBox="0 0 24 24" stroke-width="2"><path d="M15 2H6a2 2 0 0 0-2 2v16a2 2 0 0 0 2 2h12a2 2 0 0 0 2-2V7Z"/><path d="M14 2v4a2 2 0 0 0 2 2h4"/><path d="M10 9H8"/><path d="M16 13H8"/><path d="M16 17H8"/></svg>
<div class="b" style="left:2285px;top:978px;width:52px;height:52px;border-radius:50%;background:radial-gradient(circle at 65% 45%,#d070e8 0%,#e092f2 45%,#efc0fa 100%)"></div>
<span class="t" id="t67" style="left:1918px;top:982.5px;font-size:30.6px;line-height:46px;color:#fafafa;letter-spacing:-0.942px;">Feedback Report</span>
<span class="t" id="t68" style="left:2353px;top:982.5px;font-size:30.6px;line-height:46px;color:#fafafa;letter-spacing:-0.715px;">John</span>
<svg class="i" style="left:2565px;top:987.5px;color:#a1a1a1;" width="32" height="32" viewBox="0 0 24 24" stroke-width="2"><path d="M12 3v12"/><path d="m17 8-5-5-5 5"/><path d="M21 15v4a2 2 0 0 1-2 2H5a2 2 0 0 1-2-2v-4"/></svg>
<span class="t" id="t69" style="left:2612px;top:982px;font-size:29.2px;line-height:44px;color:#a1a1a1;letter-spacing:-1.087px;">A Week Ago</span>
<span class="t" id="t70" style="left:2788px;top:982.5px;font-size:30.6px;line-height:46px;color:#a1a1a1;letter-spacing:0.535px;">500kb</span>
<div class="b" style="left:1822px;top:1066px;width:1122px;height:92px;border:2px solid #2e2e2e;border-radius:24px;"></div>
<div class="b" style="left:1838px;top:1080px;width:64px;height:64px;background:#0c0c0c;border:2px solid #232323;border-radius:14px;"></div>
<svg class="i" style="left:1852px;top:1094px;color:#b8b8b8;" width="36" height="36" viewBox="0 0 24 24" stroke-width="2"><path d="M15 2H6a2 2 0 0 0-2 2v16a2 2 0 0 0 2 2h12a2 2 0 0 0 2-2V7Z"/><path d="M14 2v4a2 2 0 0 0 2 2h4"/><path d="M10 9H8"/><path d="M16 13H8"/><path d="M16 17H8"/></svg>
<div class="b" style="left:2285px;top:1086px;width:52px;height:52px;border-radius:50%;background:linear-gradient(165deg,#e4b0f6 0%,#dca4f0 38%,#b060d8 58%,#c050f0 100%)"></div>
<span class="t" id="t71" style="left:1918px;top:1090.5px;font-size:30.6px;line-height:46px;color:#fafafa;letter-spacing:-1.036px;">Sales Presentation</span>
<span class="t" id="t72" style="left:2353px;top:1090.5px;font-size:30.6px;line-height:46px;color:#fafafa;letter-spacing:-2.164px;">Emma</span>
<svg class="i" style="left:2565px;top:1095.5px;color:#a1a1a1;" width="32" height="32" viewBox="0 0 24 24" stroke-width="2"><path d="M12 3v12"/><path d="m17 8-5-5-5 5"/><path d="M21 15v4a2 2 0 0 1-2 2H5a2 2 0 0 1-2-2v-4"/></svg>
<span class="t" id="t73" style="left:2612px;top:1090px;font-size:29.2px;line-height:44px;color:#a1a1a1;letter-spacing:-1.165px;">2 Weeks Ago</span>
<span class="t" id="t74" style="left:2788px;top:1090.5px;font-size:30.6px;line-height:46px;color:#a1a1a1;letter-spacing:-0.533px;">3.5mb</span>
<div class="b" style="left:1822px;top:1174px;width:1122px;height:92px;border:2px solid #2e2e2e;border-radius:24px;"></div>
<div class="b" style="left:1838px;top:1188px;width:64px;height:64px;background:#0c0c0c;border:2px solid #232323;border-radius:14px;"></div>
<svg class="i" style="left:1852px;top:1202px;color:#b8b8b8;" width="36" height="36" viewBox="0 0 24 24" stroke-width="2"><path d="M15 2H6a2 2 0 0 0-2 2v16a2 2 0 0 0 2 2h12a2 2 0 0 0 2-2V7Z"/><path d="M14 2v4a2 2 0 0 0 2 2h4"/><path d="M10 9H8"/><path d="M16 13H8"/><path d="M16 17H8"/></svg>
<div class="b" style="left:2285px;top:1194px;width:52px;height:52px;border-radius:50%;background:#9a9a9a"></div>
</div>
<div class="b" style="left:1794px;top:1043px;width:1178px;height:160px;background:linear-gradient(to top,#171717 0%,rgba(23,23,23,0) 100%);border-radius:0 0 26px 26px;"></div>
<div class="b" style="left:562px;top:1254px;width:2412px;height:624px;overflow:hidden">
<div class="b" style="left:0;top:0;width:2412px;height:700px;background:#171717;border:2px solid #2e2e2e;border-radius:28px"></div>
</div>
<div class="b" style="left:596px;top:1288px;width:1600px;height:56px;background:#212121;border:2px solid #404040;border-radius:16px;"></div>
<svg class="i" style="left:612px;top:1300px;color:#a1a1a1;" width="32" height="32" viewBox="0 0 24 24" stroke-width="2"><circle cx="11" cy="11" r="8"/><path d="m21 21-4.3-4.3"/></svg>
<span class="t" id="t75" style="left:662px;top:1295px;font-size:29.2px;line-height:44px;color:#a1a1a1;letter-spacing:-0.083px;">Filter emails...</span>
<div class="b" style="left:2228px;top:1288px;width:155px;height:56px;background:#212121;border:2px solid #404040;border-radius:16px;"></div>
<svg class="i" style="left:2249px;top:1302px;color:#fafafa;" width="29" height="29" viewBox="0 0 24 24" stroke-width="2"><path d="M10 20a1 1 0 0 0 .553.895l2 1A1 1 0 0 0 14 21v-7a2 2 0 0 1 .517-1.341L21.74 4.67A1 1 0 0 0 21 3H3a1 1 0 0 0-.742 1.67l7.225 7.989A2 2 0 0 1 10 14z"/></svg>
<span class="t" id="t76" style="left:2294px;top:1294px;font-size:29.2px;line-height:44px;color:#fafafa;-webkit-text-stroke:0.45px #fafafa;letter-spacing:0.725px;">Filter</span>
<div class="b" style="left:2415px;top:1288px;width:220px;height:56px;background:#212121;border:2px solid #404040;border-radius:16px;"></div>
<span class="t" id="t77" style="left:2436px;top:1294px;font-size:29.2px;line-height:44px;color:#fafafa;-webkit-text-stroke:0.45px #fafafa;letter-spacing:0.305px;">Columns</span>
<svg class="i" style="left:2581px;top:1300px;color:#fafafa;" width="32" height="32" viewBox="0 0 24 24" stroke-width="2"><path d="m6 9 6 6 6-6"/></svg>
<div class="b" style="left:2667px;top:1288px;width:273px;height:56px;background:#212121;border:2px solid #404040;border-radius:16px;"></div>
<svg class="i" style="left:2689px;top:1302px;color:#fafafa;" width="28" height="28" viewBox="0 0 24 24" stroke-width="2"><path d="M12 3v12"/><path d="m17 8-5-5-5 5"/><path d="M21 15v4a2 2 0 0 1-2 2H5a2 2 0 0 1-2-2v-4"/></svg>
<span class="t" id="t78" style="left:2733px;top:1294px;font-size:29.2px;line-height:44px;color:#fafafa;-webkit-text-stroke:0.45px #fafafa;letter-spacing:0.290px;">Import People</span>
<div class="b" style="left:564px;top:1376px;width:2408px;height:2px;background:#2e2e2e;"></div>
<div class="b" style="left:564px;top:1457px;width:2408px;height:2px;background:#2e2e2e;"></div>
<div class="b" style="left:564px;top:1587px;width:2408px;height:2px;background:#2e2e2e;"></div>
<div class="b" style="left:564px;top:1717px;width:2408px;height:2px;background:#2e2e2e;"></div>
<div class="b" style="left:564px;top:1815px;width:2408px;height:2px;background:#2e2e2e;"></div>
<div class="b" style="left:580px;top:1402px;width:32px;height:32px;background:#222;border:2px solid #444;border-radius:8px;"></div>
<span class="t" id="t79" style="left:652px;top:1396px;font-size:29.2px;line-height:44px;color:#fafafa;-webkit-text-stroke:0.45px #fafafa;letter-spacing:-0.286px;">Name</span>
<svg class="i" style="left:761px;top:1402px;color:#fafafa;" width="32" height="32" viewBox="0 0 24 24" stroke-width="2"><path d="m21 16-4 4-4-4"/><path d="M17 20V4"/><path d="m3 8 4-4 4 4"/><path d="M7 4v16"/></svg>
<svg class="i" style="left:920px;top:1402px;color:#a1a1a1;" width="32" height="32" viewBox="0 0 24 24" stroke-width="2"><path d="M16 20V4a2 2 0 0 0-2-2h-4a2 2 0 0 0-2 2v16"/><rect width="20" height="14" x="2" y="6" rx="2"/></svg>
<span class="t" id="t80" style="left:968px;top:1396px;font-size:29.2px;line-height:44px;color:#fafafa;-webkit-text-stroke:0.45px #fafafa;letter-spacing:0.800px;">Job Title</span>
<svg class="i" style="left:1265px;top:1402px;color:#a1a1a1;" width="32" height="32" viewBox="0 0 24 24" stroke-width="2"><path d="M10.1 2.182a10 10 0 0 1 3.8 0"/><path d="M13.9 21.818a10 10 0 0 1-3.8 0"/><path d="M17.609 3.721a10 10 0 0 1 2.69 2.7"/><path d="M2.182 13.9a10 10 0 0 1 0-3.8"/><path d="M20.279 17.609a10 10 0 0 1-2.7 2.69"/><path d="M21.818 10.1a10 10 0 0 1 0 3.8"/><path d="M3.721 6.391a10 10 0 0 1 2.7-2.69"/><path d="M6.391 20.279a10 10 0 0 1-2.69-2.7"/></svg>
<span class="t" id="t81" style="left:1313px;top:1396px;font-size:29.2px;line-height:44px;color:#fafafa;-webkit-text-stroke:0.45px #fafafa;letter-spacing:0.610px;">Status</span>
<svg class="i" style="left:1454px;top:1402px;color:#a1a1a1;" width="32" height="32" viewBox="0 0 24 24" stroke-width="2"><rect width="20" height="16" x="2" y="4" rx="2"/><path d="m22 7-8.97 5.7a1.94 1.94 0 0 1-2.06 0L2 7"/></svg>
<span class="t" id="t82" style="left:1518px;top:1396px;font-size:29.2px;line-height:44px;color:#fafafa;-webkit-text-stroke:0.45px #fafafa;letter-spacing:-0.521px;">Email</span>
<svg class="i" style="left:1621px;top:1402px;color:#fafafa;" width="32" height="32" viewBox="0 0 24 24" stroke-width="2"><path d="m21 16-4 4-4-4"/><path d="M17 20V4"/><path d="m3 8 4-4 4 4"/><path d="M7 4v16"/></svg>
<svg class="i" style="left:1844px;top:1402px;color:#a1a1a1;" width="32" height="32" viewBox="0 0 24 24" stroke-width="2"><path d="M13.832 16.568a1 1 0 0 0 1.213-.303l.355-.465A2 2 0 0 1 17 15h3a2 2 0 0 1 2 2v3a2 2 0 0 1-2 2A18 18 0 0 1 2 4a2 2 0 0 1 2-2h3a2 2 0 0 1 2 2v3a2 2 0 0 1-.8 1.6l-.468.351a1 1 0 0 0-.292 1.233 14 14 0 0 0 6.392 6.384"/></svg>
<span class="t" id="t83" style="left:1893px;top:1396px;font-size:29.2px;line-height:44px;color:#fafafa;-webkit-text-stroke:0.45px #fafafa;letter-spacing:-0.227px;">Phone</span>
<svg class="i" style="left:2087px;top:1402px;color:#a1a1a1;" width="32" height="32" viewBox="0 0 24 24" stroke-width="2"><path d="M12.586 2.586A2 2 0 0 0 11.172 2H4a2 2 0 0 0-2 2v7.172a2 2 0 0 0 .586 1.414l8.704 8.704a2.426 2.426 0 0 0 3.42 0l6.58-6.58a2.426 2.426 0 0 0 0-3.42z"/><circle cx="7.5" cy="7.5" r=".5" fill="currentColor"/></svg>
<span class="t" id="t84" style="left:2136px;top:1396px;font-size:29.2px;line-height:44px;color:#fafafa;-webkit-text-stroke:0.45px #fafafa;letter-spacing:0.215px;">Tags</span>
<svg class="i" style="left:2368px;top:1402px;color:#a1a1a1;" width="32" height="32" viewBox="0 0 24 24" stroke-width="2"><path d="M20 10c0 4.993-5.539 10.193-7.399 11.799a1 1 0 0 1-1.202 0C9.539 20.193 4 14.993 4 10a8 8 0 0 1 16 0"/><circle cx="12" cy="10" r="3"/></svg>
<span class="t" id="t85" style="left:2416px;top:1396px;font-size:29.2px;line-height:44px;color:#fafafa;-webkit-text-stroke:0.45px #fafafa;letter-spacing:0.270px;">Address</span>
<div class="b" style="left:564px;top:1459px;width:2408px;height:419px;overflow:hidden"><div class="b" style="left:-564px;top:-1459px;width:3024px;height:1896px">
<div class="b" style="left:580px;top:1507px;width:32px;height:32px;background:#222;border:2px solid #444;border-radius:8px;"></div>
<div class="b" style="left:628px;top:1503px;width:40px;height:40px;border-radius:50%;background:radial-gradient(circle at 40% 35%,#b5d4fb 0%,#7ab0f3 55%,#4f8fe8 100%)"></div>
<span class="t" id="t86" style="left:684px;top:1501px;font-size:29.2px;line-height:44px;color:#fafafa;letter-spacing:-0.723px;">Sarah</span>
<span class="t" id="t87" style="left:920px;top:1501px;font-size:29.2px;line-height:44px;color:#fafafa;letter-spacing:0.210px;">Marketing Director</span>
<svg class="i" style="left:1265px;top:1509px;color:#22b04b;" width="28" height="28" viewBox="0 0 24 24" stroke-width="2"><circle cx="12" cy="12" r="10"/><path d="m9 12 2 2 4-4"/></svg>
<span class="t" id="t88" style="left:1305px;top:1501px;font-size:29.2px;line-height:44px;color:#fafafa;letter-spacing:0.023px;">Active</span>
<span class="t" id="t89" style="left:1430px;top:1501px;font-size:29.2px;line-height:44px;color:#fafafa;letter-spacing:-0.263px;">sarah@brightwave.co</span>
<span class="t" id="t90" style="left:1844px;top:1501px;font-size:29.2px;line-height:44px;color:#fafafa;letter-spacing:0.392px;">(415) 283-9921</span>
<div class="b" style="left:2088px;top:1475px;width:148px;height:44px;background:#262626;border:2px solid #3e3e3e;border-radius:16px;"></div>
<span class="t" id="t91" style="left:2106px;top:1478.5px;font-size:24.4px;line-height:37px;color:#fafafa;-webkit-text-stroke:0.35px #fafafa;letter-spacing:0.788px;">Marketing</span>
<div class="b" style="left:2088px;top:1527px;width:92px;height:44px;background:#262626;border:2px solid #3e3e3e;border-radius:16px;"></div>
<span class="t" id="t92" style="left:2106px;top:1530.5px;font-size:24.4px;line-height:37px;color:#fafafa;-webkit-text-stroke:0.35px #fafafa;letter-spacing:-0.657px;">SaaS</span>
<span class="t" id="t93" style="left:2368px;top:1501px;font-size:29.2px;line-height:44px;color:#fafafa;letter-spacing:-0.333px;">Pine St, San Francisco, CA 94109</span>
<div class="b" style="left:2956.9px;top:1520.3px;width:5.4px;height:5.4px;border-radius:50%;background:#fafafa"></div>
<div class="b" style="left:2966.3px;top:1520.3px;width:5.4px;height:5.4px;border-radius:50%;background:#fafafa"></div>
<div class="b" style="left:580px;top:1637px;width:32px;height:32px;background:#222;border:2px solid #444;border-radius:8px;"></div>
<div class="b" style="left:628px;top:1633px;width:40px;height:40px;border-radius:50%;background:radial-gradient(circle at 45% 50%,#fdebc8 0%,#f8d59c 55%,#f1bd6c 100%)"></div>
<span class="t" id="t94" style="left:684px;top:1631px;font-size:29.2px;line-height:44px;color:#fafafa;letter-spacing:-0.417px;">James</span>
<span class="t" id="t95" style="left:920px;top:1631px;font-size:29.2px;line-height:44px;color:#fafafa;letter-spacing:-0.386px;">Sales Manager</span>
<svg class="i" style="left:1265px;top:1639px;color:#a1a1a1;" width="28" height="28" viewBox="0 0 24 24" stroke-width="2"><path d="M10.1 2.182a10 10 0 0 1 3.8 0"/><path d="M13.9 21.818a10 10 0 0 1-3.8 0"/><path d="M17.609 3.721a10 10 0 0 1 2.69 2.7"/><path d="M2.182 13.9a10 10 0 0 1 0-3.8"/><path d="M20.279 17.609a10 10 0 0 1-2.7 2.69"/><path d="M21.818 10.1a10 10 0 0 1 0 3.8"/><path d="M3.721 6.391a10 10 0 0 1 2.7-2.69"/><path d="M6.391 20.279a10 10 0 0 1-2.69-2.7"/></svg>
<span class="t" id="t96" style="left:1305px;top:1631px;font-size:29.2px;line-height:44px;color:#fafafa;letter-spacing:0.326px;">Offline</span>
<span class="t" id="t97" style="left:1430px;top:1631px;font-size:29.2px;line-height:44px;color:#fafafa;letter-spacing:-0.435px;">james@gmail.com</span>
<span class="t" id="t98" style="left:1844px;top:1631px;font-size:29.2px;line-height:44px;color:#fafafa;letter-spacing:0.592px;">(646) 555-7310</span>
<div class="b" style="left:2088px;top:1605px;width:96px;height:44px;background:#262626;border:2px solid #3e3e3e;border-radius:16px;"></div>
<span class="t" id="t99" style="left:2106px;top:1608.5px;font-size:24.4px;line-height:37px;color:#fafafa;-webkit-text-stroke:0.35px #fafafa;letter-spacing:0.071px;">Sales</span>
<div class="b" style="left:2088px;top:1657px;width:151px;height:44px;background:#262626;border:2px solid #3e3e3e;border-radius:16px;"></div>
<span class="t" id="t100" style="left:2106px;top:1660.5px;font-size:24.4px;line-height:37px;color:#fafafa;-webkit-text-stroke:0.35px #fafafa;letter-spacing:0.648px;">Enterprise</span>
<span class="t" id="t101" style="left:2368px;top:1631px;font-size:29.2px;line-height:44px;color:#fafafa;letter-spacing:-0.091px;">West 42nd St, New York, NY 10036</span>
<div class="b" style="left:2956.9px;top:1650.3px;width:5.4px;height:5.4px;border-radius:50%;background:#fafafa"></div>
<div class="b" style="left:2966.3px;top:1650.3px;width:5.4px;height:5.4px;border-radius:50%;background:#fafafa"></div>
<div class="b" style="left:580px;top:1751px;width:32px;height:32px;background:#222;border:2px solid #444;border-radius:8px;"></div>
<div class="b" style="left:628px;top:1747px;width:40px;height:40px;border-radius:50%;background:radial-gradient(circle at 45% 75%,#b9a6fb 0%,#9478f5 50%,#6a4be9 100%)"></div>
<span class="t" id="t102" style="left:684px;top:1745px;font-size:29.2px;line-height:44px;color:#fafafa;letter-spacing:-0.575px;">Priya</span>
<span class="t" id="t103" style="left:920px;top:1745px;font-size:29.2px;line-height:44px;color:#fafafa;letter-spacing:-0.022px;">Product Manager</span>
<svg class="i" style="left:1265px;top:1753px;color:#22b04b;" width="28" height="28" viewBox="0 0 24 24" stroke-width="2"><circle cx="12" cy="12" r="10"/><path d="m9 12 2 2 4-4"/></svg>
<span class="t" id="t104" style="left:1305px;top:1745px;font-size:29.2px;line-height:44px;color:#fafafa;letter-spacing:0.023px;">Active</span>
<span class="t" id="t105" style="left:1430px;top:1745px;font-size:29.2px;line-height:44px;color:#fafafa;letter-spacing:-0.204px;">priya@auroratech.io</span>
<span class="t" id="t106" style="left:1844px;top:1745px;font-size:29.2px;line-height:44px;color:#fafafa;letter-spacing:0.507px;">(312) 449-2278</span>
<div class="b" style="left:2088px;top:1745px;width:125px;height:44px;background:#262626;border:2px solid #3e3e3e;border-radius:16px;"></div>
<span class="t" id="t107" style="left:2106px;top:1748.5px;font-size:24.4px;line-height:37px;color:#fafafa;-webkit-text-stroke:0.35px #fafafa;letter-spacing:0.940px;">Product</span>
<div class="b" style="left:2222px;top:1745px;width:81px;height:44px;background:#262626;border:2px solid #3e3e3e;border-radius:16px;"></div>
<span class="t" id="t108" style="left:2240px;top:1748.5px;font-size:24.4px;line-height:37px;color:#fafafa;-webkit-text-stroke:0.35px #fafafa;letter-spacing:0.145px;">B2B</span>
<span class="t" id="t109" style="left:2368px;top:1745px;font-size:29.2px;line-height:44px;color:#fafafa;letter-spacing:-0.181px;">Madison St, Chicago, IL 60612</span>
<div class="b" style="left:2956.9px;top:1764.3px;width:5.4px;height:5.4px;border-radius:50%;background:#fafafa"></div>
<div class="b" style="left:2966.3px;top:1764.3px;width:5.4px;height:5.4px;border-radius:50%;background:#fafafa"></div>
<div class="b" style="left:580px;top:1849px;width:32px;height:32px;background:#222;border:2px solid #444;border-radius:8px;"></div>
<div class="b" style="left:628px;top:1845px;width:40px;height:40px;border-radius:50%;background:radial-gradient(circle at 50% 30%,#42e67a 0%,#54ea88 50%,#8af2ae 100%)"></div>
<span class="t" id="t110" style="left:684px;top:1843px;font-size:29.2px;line-height:44px;color:#fafafa;letter-spacing:-0.223px;">Lucas</span>
<span class="t" id="t111" style="left:920px;top:1843px;font-size:29.2px;line-height:44px;color:#fafafa;letter-spacing:-0.133px;">Account Executive</span>
<svg class="i" style="left:1265px;top:1851px;color:#a1a1a1;" width="28" height="28" viewBox="0 0 24 24" stroke-width="2"><path d="M10.1 2.182a10 10 0 0 1 3.8 0"/><path d="M13.9 21.818a10 10 0 0 1-3.8 0"/><path d="M17.609 3.721a10 10 0 0 1 2.69 2.7"/><path d="M2.182 13.9a10 10 0 0 1 0-3.8"/><path d="M20.279 17.609a10 10 0 0 1-2.7 2.69"/><path d="M21.818 10.1a10 10 0 0 1 0 3.8"/><path d="M3.721 6.391a10 10 0 0 1 2.7-2.69"/><path d="M6.391 20.279a10 10 0 0 1-2.69-2.7"/></svg>
<span class="t" id="t112" style="left:1305px;top:1843px;font-size:29.2px;line-height:44px;color:#fafafa;letter-spacing:0.326px;">Offline</span>
<span class="t" id="t113" style="left:1430px;top:1843px;font-size:29.2px;line-height:44px;color:#fafafa;letter-spacing:-0.439px;">lucas@yahoo.com</span>
<span class="t" id="t114" style="left:1844px;top:1843px;font-size:29.2px;line-height:44px;color:#fafafa;letter-spacing:0.745px;">(512) 930-4456</span>
<div class="b" style="left:2088px;top:1843px;width:96px;height:44px;background:#262626;border:2px solid #3e3e3e;border-radius:16px;"></div>
<span class="t" id="t115" style="left:2106px;top:1846.5px;font-size:24.4px;line-height:37px;color:#fafafa;-webkit-text-stroke:0.35px #fafafa;letter-spacing:0.071px;">Sales</span>
<div class="b" style="left:2193px;top:1843px;width:119px;height:44px;background:#262626;border:2px solid #3e3e3e;border-radius:16px;"></div>
<span class="t" id="t116" style="left:2211px;top:1846.5px;font-size:24.4px;line-height:37px;color:#fafafa;-webkit-text-stroke:0.35px #fafafa;letter-spacing:0.977px;">Startup</span>
<span class="t" id="t117" style="left:2368px;top:1843px;font-size:29.2px;line-height:44px;color:#fafafa;letter-spacing:-0.319px;">Austin, TX 78701</span>
<div class="b" style="left:2956.9px;top:1862.3px;width:5.4px;height:5.4px;border-radius:50%;background:#fafafa"></div>
<div class="b" style="left:2966.3px;top:1862.3px;width:5.4px;height:5.4px;border-radius:50%;background:#fafafa"></div>
</div></div>
</div></body></html>
